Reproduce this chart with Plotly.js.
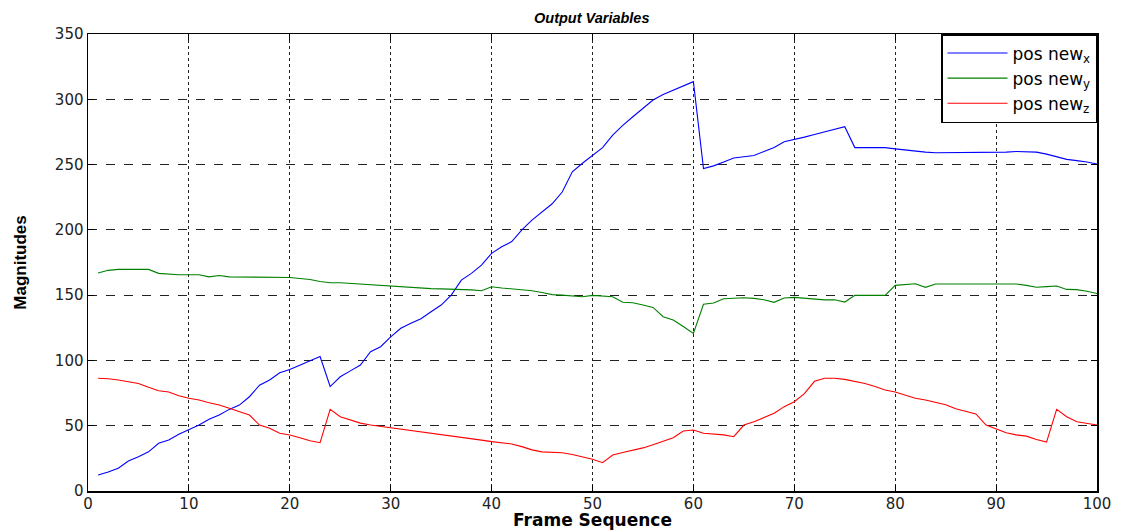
<!DOCTYPE html>
<html>
<head>
<meta charset="utf-8">
<script src="https://cdn.plot.ly/plotly-3.0.1.min.js"></script>
<style>html,body{margin:0;padding:0;background:#fff;}#chart{width:1125px;height:530px;}</style>
</head>
<body>
<div id="chart"></div>
<script>
const frames = Array.from({length: 100}, (_, i) => i + 1);
const posX = [12.3,14.5,17.4,23,26.3,30,36.5,39,43.4,47,50.5,54.9,58.2,62.5,65.8,72.2,81,85,90.6,93,96.5,100,103,80,87.5,92,96.5,106.7,110.5,118,124.6,128.4,132,137.3,142.4,150,161.5,166.7,173,182,187,191,200,207.5,214,220,229,244.5,251,257,263,272.6,280,286.6,293,299.4,303.7,307,310,313.5,247,249,252,255,256,257,260,263,267.5,269,271,273,275,277,279,263,263,263,263,262,261,260,259.5,259,259,259,259,259,259,259,259.5,260,260,259.5,258,256,254,253,252,250.4];
const posY = [167,169,169.7,169.7,169.7,169.7,166.7,166,165.6,165.6,165.6,164,165,164,164,164,164,164,164,163.5,162.8,162,160.5,159.5,159.5,159,158,157.7,157.2,157,156.5,156,155.3,155,154.8,154.7,154.5,154,153.4,156.4,155.5,154.7,154,153.4,152,150.4,150,149.3,148.8,149.8,149.5,148.8,144.5,144.2,142.5,140.6,133.5,131,126,120.7,143,144,147.2,147.6,148,147.5,146.5,144.5,147.8,148.3,147.5,146.8,146.4,146.5,144.7,149.8,149.8,149.8,149.8,157.5,158,158.7,156,158.5,158.5,158.5,158.5,158.5,158.2,158,158.5,158.5,157.5,156,156.5,157,154.4,154.2,153,151.3];
const posZ = [86.3,86,85,83.7,82.4,79.4,76.8,75.8,73,71,69.7,67.6,65.8,63.3,60.7,58.2,50.5,48,44.2,42.9,40.8,38.5,37,62.5,56.9,54.4,52,50.5,49.5,48,47,46.2,45,44,43,42,41.5,40,39,37.8,37,36,34,31.5,30,29.6,29.3,28,26.3,24.3,21.7,27.6,29.5,31.2,33,35.5,38,40.8,46,46.7,44.2,43.8,43,41.6,50.5,53,56.5,59.5,64.6,68.4,74.5,84,86.3,86.3,85.5,84,82.4,80,77.3,75.8,73.5,71,69.7,68,66,63,61,59,50.5,47.5,44.6,43,42,39.5,37.5,62.5,56.9,53,51.5,50.5];
const seriesNames = ['pos new<sub>x</sub>', 'pos new<sub>y</sub>', 'pos new<sub>z</sub>'];
const seriesColors = ['#0000ff', '#008000', '#ff0000'];
const xTicks = [0,10,20,30,40,50,60,70,80,90,100];
const yTicks = [0,50,100,150,200,250,300,350];

const traces = [posX, posY, posZ].map((vals, i) => ({
  x: frames, y: vals, type: 'scatter', mode: 'lines',
  name: seriesNames[i],
  line: {color: seriesColors[i], width: 1.1}
}));

const tickFont = {family: 'DejaVu Sans, sans-serif', size: 15, color: '#222'};
const layout = {
  width: 1125, height: 530,
  margin: {l: 88, r: 28, t: 34, b: 39},
  paper_bgcolor: '#fff', plot_bgcolor: '#fff',
  showlegend: true,
  title: {text: '<b><i>Output Variables</i></b>', x: 0.526, xanchor: 'center', y: 0.966, yanchor: 'middle',
          font: {family: 'Liberation Sans, Arial, sans-serif', size: 14.5, color: '#000'}},
  xaxis: {
    range: [0, 100], tickvals: xTicks, ticktext: xTicks.map(String),
    showgrid: true, gridcolor: '#222', griddash: 'dot', gridwidth: 1,
    showline: true, linecolor: '#000', linewidth: 1.5, mirror: 'ticks',
    ticks: 'inside', ticklen: 6, tickcolor: '#000', ticklabelstandoff: -2,
    zeroline: false, tickfont: tickFont,
    title: {text: '<b>Frame Sequence</b>', font: {family: 'DejaVu Sans, sans-serif', size: 17, color: '#000'}}
  },
  yaxis: {
    range: [0, 350], tickvals: yTicks, ticktext: yTicks.map(String),
    showgrid: true, gridcolor: '#222', griddash: 'dash', gridwidth: 1,
    showline: true, linecolor: '#000', linewidth: 1.5, mirror: 'ticks',
    ticks: 'inside', ticklen: 6, tickcolor: '#000',
    zeroline: false, tickfont: tickFont,
    title: {text: '<b>Magnitudes</b>', standoff: 24, font: {family: 'Liberation Sans Narrow, Arial Narrow, Liberation Sans, sans-serif', size: 17, color: '#000'}}
  },
  legend: {
    x: 1, xanchor: 'right', y: 1, yanchor: 'top',
    bgcolor: '#fff', bordercolor: '#000', borderwidth: 1.5,
    font: {family: 'DejaVu Sans, sans-serif', size: 17, color: '#000'},
    tracegroupgap: 0, itemwidth: 60
  }
};
Plotly.newPlot('chart', traces, layout, {displayModeBar: false, staticPlot: true});
</script>
</body>
</html>
